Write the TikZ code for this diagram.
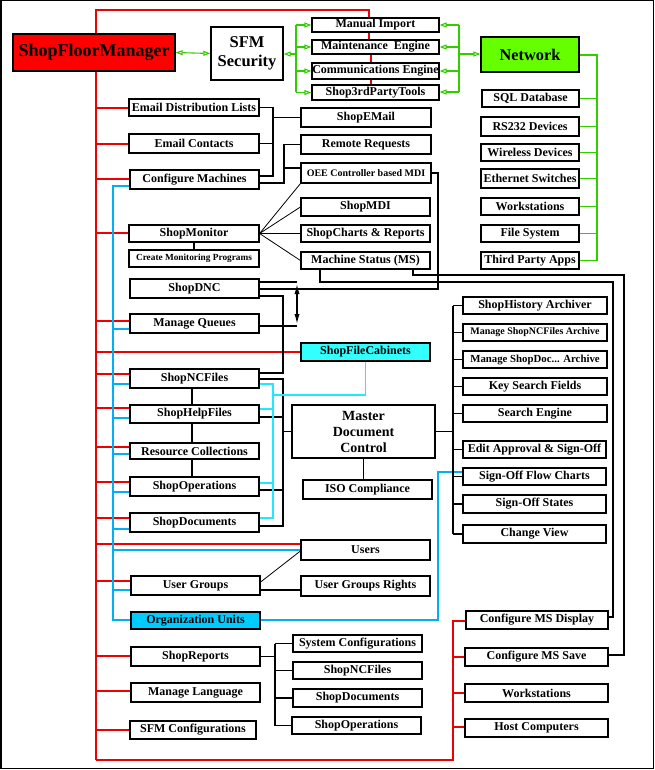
\documentclass[tikz,border=0pt]{standalone}
\usepackage{fontspec}
\setmainfont{Liberation Serif}
\usetikzlibrary{arrows.meta,backgrounds}
\definecolor{sfmred}{HTML}{FF0000}
\definecolor{netgreen}{HTML}{66FF00}
\definecolor{cabcyan}{HTML}{33FFFF}
\definecolor{oublue}{HTML}{00CCFF}
\definecolor{lgreen}{HTML}{33CC00}
\definecolor{lblue}{HTML}{00B0F0}
\definecolor{lcyan}{HTML}{22E8FF}
\definecolor{lred}{HTML}{EE0000}
\tikzset{
  box/.style={draw=black, fill=white, line width=1.2pt, inner sep=0pt, align=center,
    font=\bfseries\fontsize{12}{14}\selectfont},
  smallt/.style={font=\bfseries\fontsize{10}{12}\selectfont},
  tinyt/.style={font=\bfseries\fontsize{9.3}{11}\selectfont},
  bigt/.style={font=\bfseries\fontsize{16.5}{19}\selectfont},
  redl/.style={draw=lred, line width=1.2pt},
  bluel/.style={draw=lblue, line width=1.3pt},
  cyl/.style={draw=lcyan, line width=1.3pt},
  gline/.style={draw=lgreen, line width=1.1pt},
  garr/.style={draw=lgreen, line width=1.1pt, -{Triangle[open,length=7pt,width=5pt]}},
  gdbl/.style={draw=lgreen, line width=1.1pt, {Triangle[open,length=7pt,width=5pt]}-{Triangle[open,length=7pt,width=5pt]}},
  bl/.style={draw=black, line width=1.2pt},
  thinl/.style={draw=black, line width=0.8pt},
  dblarrow/.style={draw=black, line width=2pt, {Latex[length=12pt,width=5pt]}-{Latex[length=12pt,width=5pt]}}
}
\newcommand\bx[7][]{\node[box,#1,minimum width={(#5-#3)*1pt},minimum height={(#6-#4)*1pt}] (#2) at ({(#3+#5)/2},{(#4+#6)/2}) {#7};}
\begin{document}
\begin{tikzpicture}[x=1pt,y=-1pt]
\useasboundingbox (0,0) rectangle (655,770);
% ---- boxes
\bx[fill=sfmred,font=\bfseries\fontsize{18}{20}\selectfont]{sfm}{13}{34}{175}{71}{ShopFloorManager}
\bx[bigt]{sec}{211}{27}{283}{80}{SFM\\Security}
\bx{mi}{312}{18}{439}{32}{Manual Import}
\bx{me}{312}{40}{439}{54}{Maintenance\ \ Engine}
\bx{ce}{312}{63}{439}{79}{Communications Engine}
\bx{s3}{312}{85}{439}{100}{Shop3rdPartyTools}
\bx[fill=netgreen,font=\bfseries\fontsize{16.3}{18}\selectfont]{net}{481}{37}{579}{72}{Network}
\bx{sql}{482}{90}{579}{107}{SQL Database}
\bx{rs}{481}{117}{579}{136}{RS232 Devices}
\bx{wd}{481}{144}{579}{161}{Wireless Devices}
\bx{es}{481}{169}{579}{188}{Ethernet Switches}
\bx{ws}{481}{198}{579}{215}{Workstations}
\bx{fs}{481}{225}{579}{242}{File System}
\bx{tpa}{481}{252}{579}{269}{Third Party Apps}
\bx{edl}{129}{99}{259}{116}{Email Distribution Lists}
\bx{ec}{129}{134}{259}{153}{Email Contacts}
\bx{cm}{130}{170}{259}{189}{Configure Machines}
\bx{sem}{301}{108}{431}{127}{ShopEMail}
\bx{rr}{301}{135}{431}{154}{Remote Requests}
\bx[smallt]{oee}{301}{163}{431}{183}{OEE Controller based MDI}
\bx{smon}{129}{225}{259}{242}{ShopMonitor}
\bx[tinyt]{cmp}{129}{250}{259}{267}{Create Monitoring Programs}
\bx{mdi}{301}{198}{430}{216}{ShopMDI}
\bx{scr}{301}{225}{430}{242}{ShopCharts \& Reports}
\bx{ms}{301}{252}{430}{269}{Machine Status (MS)}
\bx{dnc}{130}{279}{259}{298}{ShopDNC}
\bx{mq}{130}{314}{259}{333}{Manage Queues}
\bx[fill=cabcyan]{sfc}{301}{343}{430}{361}{ShopFileCabinets}
\bx{nc}{130}{369}{259}{388}{ShopNCFiles}
\bx{hf}{130}{405}{259}{423}{ShopHelpFiles}
\bx{rc}{130}{443}{259}{459}{Resource Collections}
\bx{so}{130}{477}{259}{496}{ShopOperations}
\bx{sd}{130}{513}{259}{532}{ShopDocuments}
\bx[font=\bfseries\fontsize{14}{16}\selectfont]{mdc}{292}{405}{435}{458}{Master\\Document\\Control}
\bx{iso}{303}{480}{432}{499}{ISO Compliance}
\bx{sha}{463}{297}{607}{314}{ShopHistory Archiver}
\bx[smallt]{mnca}{463}{324}{607}{341}{Manage ShopNCFiles Archive}
\bx[font=\bfseries\fontsize{10.8}{13}\selectfont]{mda}{463}{351}{607}{368}{Manage ShopDoc... Archive}
\bx{ksf}{463}{378}{607}{395}{Key Search Fields}
\bx{se}{463}{405}{607}{422}{Search Engine}
\bx{ea}{463}{441}{606}{458}{Edit Approval \& Sign-Off}
\bx{sfc2}{463}{468}{606}{485}{Sign-Off Flow Charts}
\bx{sos}{463}{495}{606}{513}{Sign-Off States}
\bx{cv}{463}{525}{606}{543}{Change View}
\bx{usr}{301}{540}{430}{560}{Users}
\bx{ug}{131}{576}{260}{595}{User Groups}
\bx{ugr}{301}{576}{430}{596}{User Groups Rights}
\bx[fill=oublue]{ou}{131}{612}{260}{629}{Organization Units}
\bx{sr}{131}{647}{260}{666}{ShopReports}
\bx{ml}{131}{683}{260}{702}{Manage Language}
\bx{sfmc}{130}{721}{256}{739}{SFM Configurations}
\bx{syc}{293}{635}{422}{652}{System Configurations}
\bx{nc2}{293}{662}{422}{679}{ShopNCFiles}
\bx{sd2}{293}{689}{422}{707}{ShopDocuments}
\bx{so2}{292}{717}{421}{734}{ShopOperations}
\bx{cmd}{466}{611}{608}{629}{Configure MS Display}
\bx{cms}{465}{648}{608}{666}{Configure MS Save}
\bx{ws2}{465}{684}{608}{702}{Workstations}
\bx{hc}{465}{719}{608}{737}{Host Computers}
% ---- connectors
\begin{scope}[on background layer]
\coordinate (rtop) at (96,10);
\coordinate (rbot) at (96,760);
\draw[redl] (rbot) -- (rtop) -| (mi.north -| 369,0);
\draw[redl] (mi.south -| 369,0) -- (me.north -| 369,0);
\draw[redl] (me.south -| 371,0) -- (ce.north -| 371,0);
\draw[redl] (ce.south -| 371,0) -- (s3.north -| 371,0);
\foreach \n/\y in {edl/108, ec/144, cm/179, smon/233, mq/321, sfc/352, nc/374, hf/408, rc/447, so/482, sd/518, usr/544, ug/581, sr/656, ml/691, sfmc/730}
  \draw[redl] (96,\y) -- (\n.west |- 0,\y);
\draw[redl] (rbot) -- (453,760) -- (453,621) -- (cmd.west |- 0,621);
\foreach \n/\y in {cms/657, ws2/693, hc/727}
  \draw[redl] (453,\y) -- (\n.west |- 0,\y);
% blue
\draw[bluel] (cm.west |- 0,186) -- (113,186) -- (113,620) -- (ou.west |- 0,620);
\foreach \n/\y in {mq/329, nc/384, hf/418, rc/454, so/492, sd/529, usr/550, ug/590}
  \draw[bluel] (113,\y) -- (\n.west |- 0,\y);
\draw[bluel] (ou.east |- 0,620) -- (438,620) -- (438,472) -- (sfc2.west |- 0,472);
% green
\draw[gline] (296,25) -- (296,92.5);
\draw[gline] (459,25) -- (459,92);
\draw[gline] (net.east |- 0,55) -- (597,55) -- (597,260.5);
\foreach \n in {sql,rs,wd,es,ws,fs,tpa}
  \draw[gline] (\n.east) -- (\n.east -| 597,0);
% black
\draw[bl] (edl.east) -- (273,107.5) -- (273,176) -- (cm.east |- 0,176);
\draw[bl] (ec.east) -- (ec.east -| 273,0);
\draw[bl] (273,117.5) -- (sem.west);
\draw[bl] (cm.east |- 0,183) -- (284,183) -- (284,144.5) -- (rr.west);
\draw[bl] (284,168) -- (oee.west |- 0,168);
\draw[bl] (oee.east |- 0,173) -- (438,173) -- (438,289) -- (dnc.east |- 0,289);
\draw[thinl] (smon.east) -- (oee.south west);
\draw[thinl] (smon.east) -- (mdi.west);
\draw[thinl] (smon.east) -- (scr.west);
\draw[thinl] (smon.east) -- (ms.west);
\draw[bl] (smon.south) -- (cmp.north);
\draw[bl] (ms.south -| 320,0) -- (320,282) -- (613,282) -- (613,617) -- (cmd.east |- 0,617);
\draw[bl] (ms.south -| 413,0) -- (413,275) -- (624,275) -- (624,655) -- (cms.east |- 0,655);
\draw[bl] (dnc.east |- 0,282) -- (297,282);
\draw[bl] (mq.east |- 0,326) -- (297,326);
\draw[bl] (dnc.east |- 0,296) -- (283,296) -- (283,373) -- (nc.east |- 0,373);
\draw[bl] (nc.east |- 0,379) -- (283,379) -- (283,526) -- (sd.east |- 0,526);
\draw[bl] (hf.east |- 0,417) -- (283,417);
\draw[bl] (so.east |- 0,490) -- (283,490);
\draw[bl] (283,431.5) -- (mdc.west);
\draw[bl] (nc.south -| 192,0) -- (hf.north -| 192,0);
\draw[bl] (hf.south -| 192,0) -- (rc.north -| 192,0);
\draw[bl] (rc.south -| 192,0) -- (so.north -| 192,0);
\draw[bl] (mdc.south) -- (mdc.south |- iso.north);
\draw[bl] (mdc.east) -- (453,431.5);
\draw[bl] (453,305.5) -- (453,534);
\foreach \n in {sha,mnca,mda,ksf,se,ea,sfc2,sos,cv}
  \draw[bl] (\n.west -| 453,0) -- (\n.west);
% cyan
\draw[cyl] (sfc.south) -- (sfc.south |- 0,395) -- (273,395);
\draw[cyl] (nc.east |- 0,384) -- (273,384) -- (273,518) -- (sd.east |- 0,518);
\draw[cyl] (hf.east |- 0,409) -- (273,409);
\draw[cyl] (so.east |- 0,483) -- (273,483);
% users
\draw[thinl] (ug.east |- 0,582) -- (usr.west |- 0,551);
\draw[bl] (ug.east |- 0,590) -- (ugr.west |- 0,590);
% reports
\draw[bl] (sr.east) -- (275,656.5);
\draw[bl] (275,643.5) -- (275,725.5);
\foreach \n in {syc,nc2,sd2,so2}
  \draw[bl] (\n.west -| 275,0) -- (\n.west);
\end{scope}
% green arrows on top
\draw[gdbl] (sfm.east) -- (sec.west);
\draw[garr] (296,54) -- (sec.east |- 0,54);
\foreach \n/\y in {mi/25, me/47, ce/71, s3/92.5}
  \draw[garr] (296,\y) -- (\n.west |- 0,\y);
\foreach \n/\y in {mi/25, me/47, ce/71, s3/92}
  \draw[garr] (459,\y) -- (\n.east |- 0,\y);
\draw[garr] (459,54) -- (net.west |- 0,54);
\draw[dblarrow] (297,282) -- (297,326);
% frame
\draw[line width=1.5pt] (0.75,0.75) rectangle (653.5,768.5);
\end{tikzpicture}
\end{document}
